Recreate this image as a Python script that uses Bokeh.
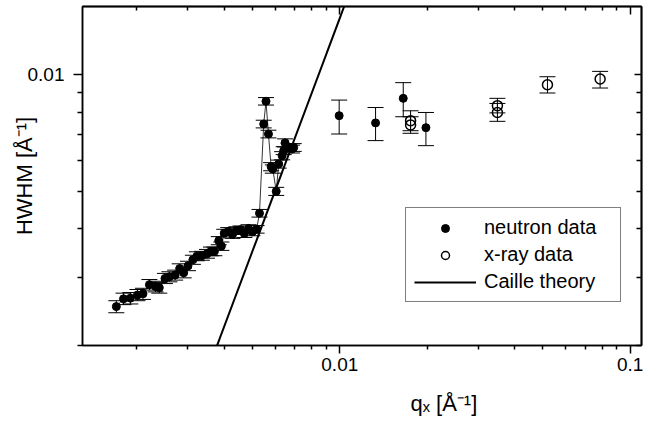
from bokeh.plotting import figure
from bokeh.models import (FixedTicker, CustomJSTickFormatter, LogAxis, Whisker, TeeHead,
                          ColumnDataSource, Legend, LegendItem, Range1d, Title)
from bokeh.embed import file_html
from bokeh.resources import INLINE

FONT = "Liberation Sans"

# ---------------- data ----------------
# neutron data (low q, dense series incl. jump region)
neutron_q = [0.00170, 0.00180, 0.00190, 0.00201, 0.00210, 0.00221, 0.00232, 0.00239, 0.00250,
             0.00259, 0.00271, 0.00281, 0.00290, 0.00300, 0.00312, 0.00322, 0.00335, 0.00349,
             0.00360, 0.00370, 0.00383, 0.00391, 0.00400, 0.00413, 0.00427, 0.00440, 0.00455,
             0.00469, 0.00485, 0.00500, 0.00517, 0.00529, 0.00547, 0.00557, 0.00568, 0.00580,
             0.00588, 0.00604, 0.00616, 0.00633, 0.00641, 0.00648, 0.00667, 0.00685, 0.00694]
neutron_hwhm = [0.00252, 0.00264, 0.00265, 0.00270, 0.00272, 0.00287, 0.00284, 0.00282, 0.00298,
                0.00301, 0.00304, 0.00316, 0.00308, 0.00321, 0.00333, 0.00340, 0.00341, 0.00345,
                0.00350, 0.00350, 0.00373, 0.00361, 0.00390, 0.00394, 0.00387, 0.00396, 0.00398,
                0.00389, 0.00401, 0.00393, 0.00399, 0.00439, 0.00746, 0.00854, 0.00703, 0.00579,
                0.00571, 0.00500, 0.00588, 0.00618, 0.00637, 0.00667, 0.00649, 0.00643, 0.00649]
neutron_err = [0.00009, 0.00009, 0.00009, 0.00009, 0.00009, 0.00009, 0.00009, 0.00009, 0.00009,
               0.00009, 0.00009, 0.00009, 0.00009, 0.00009, 0.00009, 0.00009, 0.00009, 0.00009,
               0.00009, 0.00009, 0.00009, 0.00009, 0.00009, 0.00009, 0.00009, 0.00009, 0.00009,
               0.00009, 0.00009, 0.00009, 0.00009, 0.00010, 0.00017, 0.00019, 0.00016, 0.00014,
               0.00014, 0.00012, 0.00014, 0.00015, 0.00015, 0.00016, 0.00015, 0.00015, 0.00015]

# neutron data (higher q, large error bars)
neutron_hq_q = [0.00995, 0.01328, 0.01654, 0.01980]
neutron_hq_hwhm = [0.00784, 0.00751, 0.00869, 0.00730]
neutron_hq_lower = [0.00703, 0.00676, 0.00779, 0.00656]
neutron_hq_upper = [0.00860, 0.00823, 0.00954, 0.00799]

# x-ray data
xray_q = [0.01753, 0.01753, 0.0349, 0.0349, 0.0519, 0.0788]
xray_hwhm = [0.00761, 0.00742, 0.00832, 0.00799, 0.00942, 0.00975]
xray_lower = [0.00717, 0.00706, 0.00797, 0.00758, 0.00897, 0.00924]
xray_upper = [0.00807, 0.00779, 0.00869, 0.00843, 0.00988, 0.01020]

# Caille theory (straight line in log-log)
caille_q = [0.0035, 0.0112]
caille_hwhm = [0.001715, 0.01756]

# axes
x_major = [0.01, 0.1]
x_minor = [0.002, 0.003, 0.004, 0.005, 0.006, 0.007, 0.008, 0.009,
           0.02, 0.03, 0.04, 0.05, 0.06, 0.07, 0.08, 0.09]
y_major = [0.01]
y_minor = [0.002, 0.003, 0.004, 0.005, 0.006, 0.007, 0.008, 0.009]

x_title = "qₓ [Å⁻¹]"
y_title = "HWHM [Å⁻¹]"

# ---------------- figure ----------------
p = figure(width=650, height=422, x_axis_type="log", y_axis_type="log",
           x_range=Range1d(0.0013, 0.1094), y_range=Range1d(0.002, 0.015),
           output_backend="svg", toolbar_location=None,
           min_border_left=82, min_border_right=9, min_border_top=6, min_border_bottom=77)
p.xgrid.visible = False
p.ygrid.visible = False
p.outline_line_color = "black"
p.outline_line_width = 1.5
p.background_fill_color = "white"
p.border_fill_color = "white"

fmt = CustomJSTickFormatter(code="return tick.toString();")


def style_axis(ax, major_out, minor_out):
    ax.axis_line_color = "black"
    ax.axis_line_width = 1.5
    ax.major_tick_line_color = "black"
    ax.minor_tick_line_color = "black"
    ax.major_tick_line_width = 1.5
    ax.minor_tick_line_width = 1.5
    ax.major_tick_out = major_out
    ax.major_tick_in = 0
    ax.minor_tick_out = minor_out
    ax.minor_tick_in = 0
    ax.formatter = fmt
    ax.major_label_text_font = FONT
    ax.major_label_text_font_size = "19px"
    ax.major_label_text_color = "black"


xa = p.xaxis[0]
xa.ticker = FixedTicker(ticks=x_major, minor_ticks=x_minor)
style_axis(xa, 8, 4)
xa.major_label_standoff = 4

ya = p.yaxis[0]
ya.ticker = FixedTicker(ticks=y_major, minor_ticks=y_minor)
style_axis(ya, 9, 5)
ya.major_label_standoff = 9
ya.axis_label = y_title
ya.axis_label_text_font = FONT
ya.axis_label_text_font_size = "22px"
ya.axis_label_text_font_style = "normal"
ya.axis_label_text_color = "black"
ya.axis_label_standoff = -12


def mirror_axis(positions, tick_len):
    # tick marks only (given as minor ticks so that no labels are produced)
    ax = LogAxis(ticker=FixedTicker(ticks=[], minor_ticks=positions))
    ax.axis_line_color = "black"
    ax.axis_line_width = 1.5
    ax.minor_tick_line_color = "black"
    ax.minor_tick_line_width = 1.5
    ax.minor_tick_in = tick_len
    ax.minor_tick_out = 0
    ax.major_tick_in = 0
    ax.major_tick_out = 0
    ax.major_label_standoff = 0
    ax.axis_label_standoff = 0
    return ax


p.add_layout(mirror_axis(x_major, 8), "above")
p.add_layout(mirror_axis(x_minor, 4), "above")
p.add_layout(mirror_axis(y_major, 7), "right")
p.add_layout(mirror_axis(y_minor, 5), "right")

# invisible spacer below the x tick labels, then the x-axis title
spacer = LogAxis(ticker=FixedTicker(ticks=[], minor_ticks=x_major))
spacer.axis_line_color = None
spacer.minor_tick_line_color = None
spacer.minor_tick_out = 16
spacer.minor_tick_in = 0
spacer.major_tick_out = 0
spacer.major_tick_in = 0
spacer.major_label_standoff = 0
spacer.axis_label_standoff = 0
p.add_layout(spacer, "below")
p.add_layout(Title(text=x_title, align="left", offset=328, vertical_align="middle",
                   standoff=0, text_font=FONT, text_font_size="22px",
                   text_font_style="normal", text_color="black"), "below")

# ---------------- glyphs ----------------
src_n = ColumnDataSource(dict(
    q=neutron_q, h=neutron_hwhm,
    lo=[h - e for h, e in zip(neutron_hwhm, neutron_err)],
    hi=[h + e for h, e in zip(neutron_hwhm, neutron_err)]))
src_nh = ColumnDataSource(dict(q=neutron_hq_q, h=neutron_hq_hwhm,
                               lo=neutron_hq_lower, hi=neutron_hq_upper))
src_x = ColumnDataSource(dict(q=xray_q, h=xray_hwhm, lo=xray_lower, hi=xray_upper))

for src in (src_n, src_nh, src_x):
    p.add_layout(Whisker(source=src, base="q", lower="lo", upper="hi", dimension="height",
                         line_color="black", line_width=1,
                         upper_head=TeeHead(size=16, line_color="black", line_width=1),
                         lower_head=TeeHead(size=16, line_color="black", line_width=1)))

p.line(neutron_q, neutron_hwhm, line_color="black", line_width=0.8)
r_c = p.line(caille_q, caille_hwhm, line_color="black", line_width=2)
r_n = p.scatter("q", "h", source=src_n, size=8, color="black")
p.scatter("q", "h", source=src_nh, size=8, color="black")
r_x = p.scatter("q", "h", source=src_x, size=10, fill_color=None, line_color="black",
                line_width=1.5)

legend = Legend(items=[LegendItem(label="neutron data", renderers=[r_n]),
                       LegendItem(label="x-ray data", renderers=[r_x]),
                       LegendItem(label="Caille theory", renderers=[r_c])],
                location=(323, 43), padding=8, spacing=4, margin=0,
                glyph_width=62, glyph_height=20, label_height=20, label_standoff=8,
                label_width=128, label_text_font=FONT, label_text_font_size="20px",
                label_text_color="black", border_line_color="black",
                border_line_width=1.2, background_fill_color="white",
                background_fill_alpha=1.0)
p.add_layout(legend)

open("out.html", "w").write(file_html(p, INLINE))
